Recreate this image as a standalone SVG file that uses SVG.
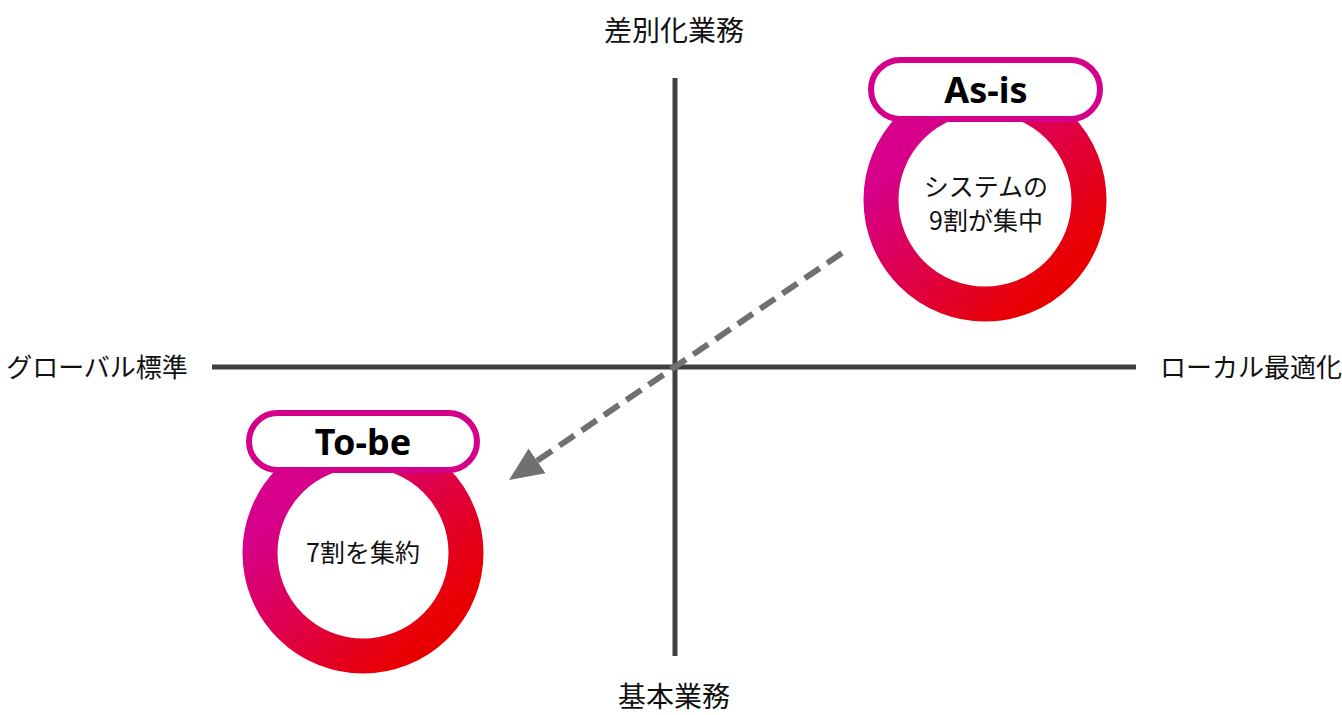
<svg xmlns="http://www.w3.org/2000/svg" width="1342" height="715" viewBox="0 0 1342 715">
<style>
.axis{stroke:#404040;stroke-width:5;fill:none}
.lbl{font-family:"Noto Sans CJK JP","Noto Sans",sans-serif;font-size:26px;fill:#111;text-anchor:middle}
.lbl2{font-family:"Noto Sans CJK JP","Noto Sans",sans-serif;font-size:28px;fill:#111;text-anchor:middle}
.in{font-family:"Noto Sans CJK JP","Noto Sans",sans-serif;font-size:25px;fill:#111;text-anchor:middle}
.tag{font-family:"Noto Sans","Noto Sans CJK JP",sans-serif;font-size:36px;font-weight:bold;fill:#000;text-anchor:middle}
.pill{fill:#fff;stroke:#d4008a;stroke-width:6}
.ring{fill:none;stroke-width:35}
</style>
<defs>
<linearGradient id="g" x1="0" y1="0" x2="1" y2="1">
<stop offset="0.2" stop-color="#d6008a"/>
<stop offset="0.85" stop-color="#e80000"/>
</linearGradient>
<marker id="ah" markerUnits="userSpaceOnUse" markerWidth="40" markerHeight="40" viewBox="0 0 40 40" refX="34" refY="20" orient="auto">
<path d="M0,5 L34,20 L0,35 Z" fill="#707070"/>
</marker>
</defs>
<g id="axes">
<line class="axis" x1="675" y1="78" x2="675" y2="656"/>
<line class="axis" x1="212" y1="367" x2="1136" y2="367"/>
</g>
<g id="axis-labels">
<text class="lbl2" x="674" y="41">差別化業務</text>
<text class="lbl2" x="674" y="707">基本業務</text>
<text class="lbl" x="97" y="377">グローバル標準</text>
<text class="lbl" x="1251" y="377">ローカル最適化</text>
</g>
<g id="connectors">
<line x1="842" y1="253" x2="509" y2="480" stroke="#707070" stroke-width="6" stroke-dasharray="18,9" marker-end="url(#ah)"/>
</g>
<g id="as-is">
<circle class="ring" cx="985" cy="200" r="104" stroke="url(#g)"/>
<rect class="pill" x="871" y="60" width="229" height="59" rx="29.5"/>
<text class="tag" x="986" y="103">As-is</text>
<text class="in" x="986" y="196">システムの</text>
<text class="in" x="986" y="230">9割が集中</text>
</g>
<g id="to-be">
<circle class="ring" cx="363" cy="553" r="103" stroke="url(#g)"/>
<rect class="pill" x="249" y="413" width="228" height="57" rx="28.5"/>
<text class="tag" x="363" y="455">To-be</text>
<text class="in" x="363" y="562">7割を集約</text>
</g>
</svg>
